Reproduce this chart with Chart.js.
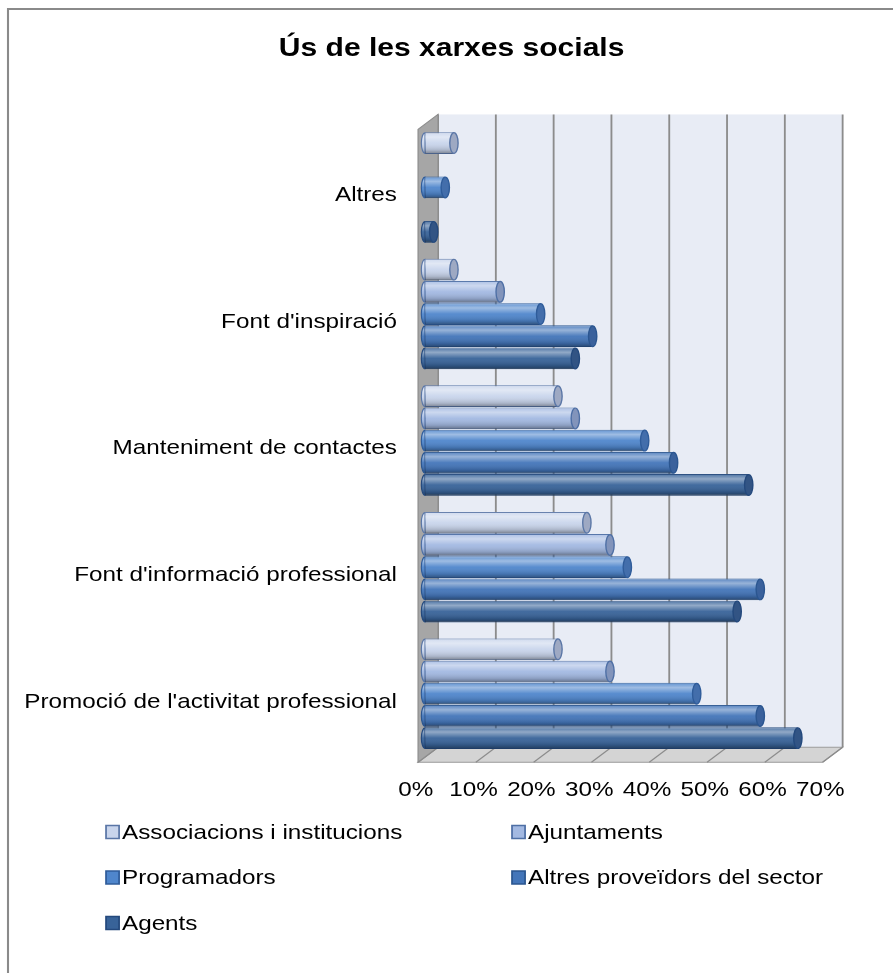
<!DOCTYPE html>
<html>
<head>
<meta charset="utf-8">
<title>Ús de les xarxes socials</title>
<script src="https://cdn.jsdelivr.net/npm/chart.js@4.4.0/dist/chart.umd.min.js"></script>
<style>
  html, body { margin: 0; padding: 0; background: #fff; }
  canvas { display: block; }
</style>
</head>
<body>
<canvas id="chart" width="893" height="973" style="width:893px;height:973px"></canvas>
<script>
const chartTitle = 'Ús de les xarxes socials';
const categories = ['Altres', "Font d'inspiració", 'Manteniment de contactes', "Font d'informació professional", "Promoció de l'activitat professional"];
const seriesNames = ['Associacions i institucions', 'Ajuntaments', 'Programadors', 'Altres proveïdors del sector', 'Agents'];

// percentages, one value per category (top to bottom)
const associacions = [5, 5, 23, 28, 23];
const ajuntaments = [0, 13, 26, 32, 32];
const programadors = [3.5, 20, 38, 35, 47];
const altresProveidors = [0, 29, 43, 58, 58];
const agents = [1.5, 26, 56, 54, 64.5];
const xTicks = [0, 10, 20, 30, 40, 50, 60, 70];

const fills = ['#c9d5ec', '#a3b9e2', '#4f86cc', '#4375b9', '#386399'];
const borders = ['#5a76a6', '#4e6fa5', '#2f5c9a', '#2b5690', '#24497d'];

// the original picture is stretched sideways, so everything is drawn stretched
const stretch = 1.155;
const depthX = 20 / stretch, depthY = 15, barDepth = 0.35;

Chart.defaults.font.family = '"Liberation Sans", Arial, sans-serif';
Chart.defaults.color = '#000';

function shade(ctx, x0, top, w, h) {
  const g = ctx.createLinearGradient(0, top, 0, top + h);
  g.addColorStop(0, 'rgba(255,255,255,0.10)');
  g.addColorStop(0.22, 'rgba(255,255,255,0.45)');
  g.addColorStop(0.5, 'rgba(255,255,255,0.05)');
  g.addColorStop(0.82, 'rgba(0,0,0,0.15)');
  g.addColorStop(1, 'rgba(0,0,0,0.40)');
  return g;
}

const frame = {
  id: 'frame',
  afterLayout(chart) {
    // centre the title over the whole picture, not only over the padded box
    const tb = chart.titleBlock;
    const want = 391;
    const d = want - (tb.left + tb.right) / 2;
    tb.left += d;
    tb.right += d;
  },
  beforeDraw(chart) {
    const ctx = chart.ctx;
    ctx.save();
    ctx.scale(stretch, 1);
    ctx.strokeStyle = '#8a8a8a';
    ctx.lineWidth = 1.8;
    ctx.beginPath();
    ctx.moveTo(8 / stretch, chart.height);
    ctx.lineTo(8 / stretch, 9);
    ctx.lineTo(chart.width, 9);
    ctx.stroke();
  },
  beforeDatasetsDraw(chart) {
    const { ctx, chartArea: ca } = chart;
    const xs = chart.scales.x;
    const fx = -barDepth * depthX, bx = (1 - barDepth) * depthX;
    const fy = barDepth * depthY, by = -(1 - barDepth) * depthY;
    const x0 = xs.getPixelForValue(xs.min), x1 = xs.getPixelForValue(xs.max);
    const backTop = ca.top + by, backBot = ca.bottom + by;
    const frontTop = ca.top + fy, frontBot = ca.bottom + fy;
    ctx.save();
    // back wall
    ctx.fillStyle = '#e8ecf5';
    ctx.fillRect(x0 + bx, backTop, x1 - x0, backBot - backTop);
    // floor
    ctx.fillStyle = '#d4d4d4';
    ctx.beginPath();
    ctx.moveTo(x0 + fx, frontBot);
    ctx.lineTo(x0 + bx, backBot);
    ctx.lineTo(x1 + bx, backBot);
    ctx.lineTo(x1 + fx, frontBot);
    ctx.closePath();
    ctx.fill();
    ctx.strokeStyle = '#9a9a9a';
    ctx.lineWidth = 1;
    ctx.stroke();
    // grid lines on wall and floor
    ctx.strokeStyle = '#8c8c8c';
    xs.ticks.forEach(t => {
      const px = xs.getPixelForValue(t.value);
      ctx.lineWidth = 1.6;
      ctx.beginPath();
      ctx.moveTo(px + bx, backTop);
      ctx.lineTo(px + bx, backBot);
      ctx.stroke();
      ctx.lineWidth = 1;
      ctx.beginPath();
      ctx.moveTo(px + bx, backBot);
      ctx.lineTo(px + fx, frontBot);
      ctx.stroke();
    });
    // left side wall
    ctx.fillStyle = '#a6a6a6';
    ctx.beginPath();
    ctx.moveTo(x0 + fx, frontTop);
    ctx.lineTo(x0 + bx, backTop);
    ctx.lineTo(x0 + bx, backBot);
    ctx.lineTo(x0 + fx, frontBot);
    ctx.closePath();
    ctx.fill();
    ctx.strokeStyle = '#8c8c8c';
    ctx.stroke();
    ctx.restore();
  },
  afterDatasetsDraw(chart) {
    const ctx = chart.ctx;
    ctx.save();
    chart.data.datasets.forEach((ds, di) => {
      chart.getDatasetMeta(di).data.forEach((bar, i) => {
        if (!ds.data[i]) return;
        const { x, y, base, height } = bar.getProps(['x', 'y', 'base', 'height'], true);
        const top = y - height / 2;
        const ry = height / 2 - 0.5;
        // rounded near end
        ctx.beginPath();
        ctx.ellipse(base, y, 3.2, ry, 0, Math.PI / 2, Math.PI * 1.5);
        ctx.closePath();
        ctx.fillStyle = ds.backgroundColor;
        ctx.fill();
        ctx.fillStyle = shade(ctx, base, top, 0, height);
        ctx.fill();
        ctx.strokeStyle = ds.borderColor;
        ctx.lineWidth = 1;
        ctx.stroke();
        // body shading
        ctx.fillStyle = shade(ctx, base, top, x - base, height);
        ctx.fillRect(base, top + 0.5, x - base, height - 1);
        // far end cap
        ctx.beginPath();
        ctx.ellipse(x, y, 3.6, ry, 0, 0, Math.PI * 2);
        ctx.fillStyle = ds.backgroundColor;
        ctx.fill();
        ctx.fillStyle = 'rgba(30,40,70,0.25)';
        ctx.fill();
        ctx.strokeStyle = ds.borderColor;
        ctx.lineWidth = 1.2;
        ctx.stroke();
      });
    });
    ctx.restore();
  },
  afterDraw(chart) {
    const ctx = chart.ctx;
    const cols = [91.8, 443.3];
    const rows = [832, 877.5, 923];
    ctx.save();
    ctx.font = '21px "Liberation Sans", Arial, sans-serif';
    ctx.textBaseline = 'middle';
    chart.data.datasets.forEach((ds, i) => {
      const lx = cols[i % 2], ly = rows[Math.floor(i / 2)];
      ctx.fillStyle = ds.backgroundColor;
      ctx.fillRect(lx, ly - 6.5, 11.3, 13);
      ctx.strokeStyle = ds.borderColor;
      ctx.lineWidth = 1.5;
      ctx.strokeRect(lx, ly - 6.5, 11.3, 13);
      ctx.fillStyle = '#000';
      ctx.fillText(ds.label, lx + 13.8, ly + 1);
    });
    ctx.restore();
    ctx.restore();
  }
};

const seriesValues = [associacions, ajuntaments, programadors, altresProveidors, agents];

new Chart(document.getElementById('chart'), {
  type: 'bar',
  data: {
    labels: categories,
    datasets: seriesNames.map((name, i) => ({
      label: name,
      data: seriesValues[i],
      backgroundColor: fills[i],
      borderColor: borders[i],
      borderWidth: 1,
      categoryPercentage: 0.877,
      barPercentage: 0.98
    }))
  },
  options: {
    indexAxis: 'y',
    responsive: false,
    animation: false,
    layout: { padding: { left: 8, right: 174.7, top: 0, bottom: 156 } },
    scales: {
      x: {
        min: 0,
        max: 70,
        afterBuildTicks: s => { s.ticks = xTicks.map(v => ({ value: v })); },
        grid: { display: false, drawTicks: false },
        border: { display: false },
        ticks: {
          font: { size: 21 },
          padding: 21,
          labelOffset: -8,
          maxRotation: 0,
          callback: v => v + '%'
        },
        afterFit: s => { s.height = 60; s.paddingLeft = 0; s.paddingRight = 0; }
      },
      y: {
        grid: { display: false, drawTicks: false },
        border: { display: false },
        ticks: { font: { size: 21 }, padding: 24.3, labelOffset: 8 },
        afterFit: s => { s.width = 360; s.paddingTop = 0; s.paddingBottom = 0; }
      }
    },
    plugins: {
      legend: { display: false },
      tooltip: { enabled: false },
      title: {
        display: true,
        text: chartTitle,
        font: { size: 26, weight: 'bold' },
        color: '#000',
        padding: { top: 33, bottom: 60 }
      }
    }
  },
  plugins: [frame]
});
</script>
</body>
</html>
